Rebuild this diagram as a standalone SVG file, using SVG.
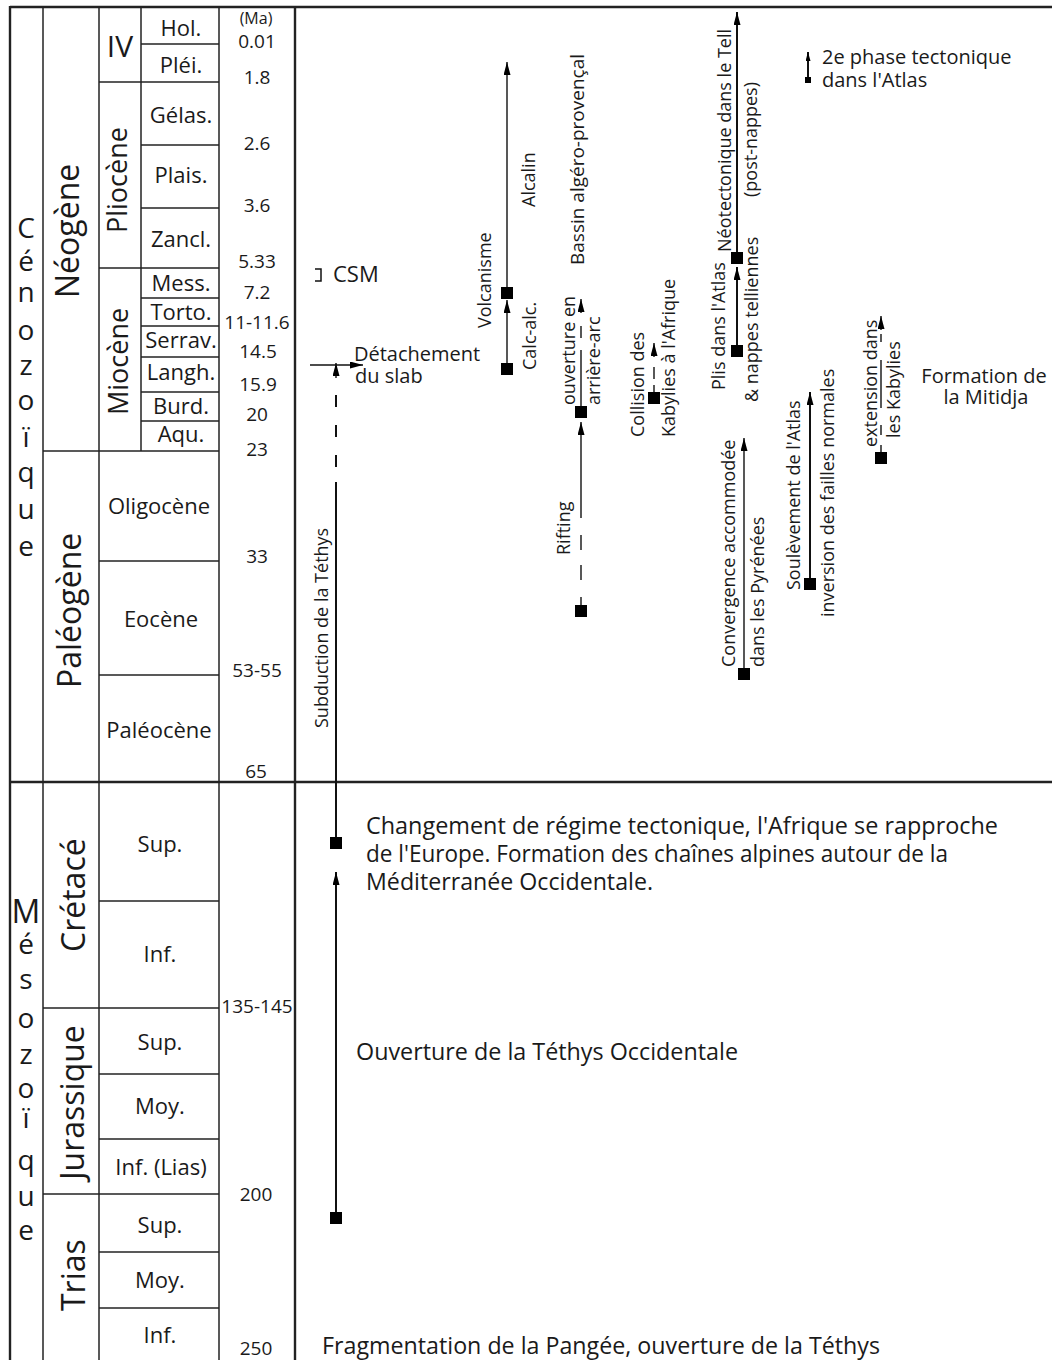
<svg xmlns="http://www.w3.org/2000/svg" xmlns:xlink="http://www.w3.org/1999/xlink" width="1052" height="1360" viewBox="0 0 1052 1360">
<style>
text { font-family: "Open Sans", "Noto Sans", "DejaVu Sans", sans-serif; fill: #1a1a1a; }
.stage { font-size: 22px; text-anchor: middle; }
.ma { font-size: 19px; text-anchor: middle; }
.per { font-size: 32px; }
.ep { font-size: 27px; }
.era { font-size: 28px; text-anchor: middle; }
.ann { font-size: 18px; }
.annh { font-size: 20px; }
.big { font-size: 23px; }
.grid line { stroke: #222; stroke-width: 1.5; fill: none; }
.grid line.thick { stroke-width: 2.4; }
.conn line { stroke: #111; stroke-width: 1.4; }
.conn line.heavy { stroke-width: 2; }
.sq { fill: #000; }
</style>
<defs>
<marker id="arr" viewBox="0 0 13 7" refX="13" refY="3.5" markerWidth="13" markerHeight="7" markerUnits="userSpaceOnUse" orient="auto">
<path d="M0,0 L13,3.5 L0,7 z" fill="#000"/>
</marker>
<marker id="arrs" viewBox="0 0 9 5" refX="9" refY="2.5" markerWidth="9" markerHeight="5" markerUnits="userSpaceOnUse" orient="auto">
<path d="M0,0 L9,2.5 L0,5 z" fill="#000"/>
</marker>
<rect id="sq" x="-6" y="-6" width="12" height="12" class="sq"/>
</defs>
<rect width="1052" height="1360" fill="#fff"/>

<g id="table" class="grid">
<line class="thick" x1="10" y1="7" x2="1052" y2="7"/>
<line class="thick" x1="10" y1="782" x2="1052" y2="782"/>
<line class="thick" x1="10" y1="6" x2="10" y2="1360"/>
<line x1="43" y1="7" x2="43" y2="1360"/>
<line x1="99" y1="7" x2="99" y2="1360"/>
<line x1="141" y1="7" x2="141" y2="451"/>
<line x1="219" y1="7" x2="219" y2="1360"/>
<line class="thick" x1="295" y1="7" x2="295" y2="1360"/>
<line x1="141" y1="44" x2="219" y2="44"/>
<line x1="141" y1="145" x2="219" y2="145"/>
<line x1="141" y1="208" x2="219" y2="208"/>
<line x1="141" y1="298" x2="219" y2="298"/>
<line x1="141" y1="326" x2="219" y2="326"/>
<line x1="141" y1="357" x2="219" y2="357"/>
<line x1="141" y1="392" x2="219" y2="392"/>
<line x1="141" y1="421" x2="219" y2="421"/>
<line x1="99" y1="82" x2="219" y2="82"/>
<line x1="99" y1="268" x2="219" y2="268"/>
<line x1="99" y1="561" x2="219" y2="561"/>
<line x1="99" y1="675" x2="219" y2="675"/>
<line x1="99" y1="901" x2="219" y2="901"/>
<line x1="99" y1="1074" x2="219" y2="1074"/>
<line x1="99" y1="1139" x2="219" y2="1139"/>
<line x1="99" y1="1252" x2="219" y2="1252"/>
<line x1="99" y1="1308" x2="219" y2="1308"/>
<line x1="43" y1="451" x2="219" y2="451"/>
<line x1="43" y1="1008" x2="219" y2="1008"/>
<line x1="43" y1="1194" x2="219" y2="1194"/>
</g>

<g id="era-cenozoic">
<text class="era"><tspan x="26" y="238">C</tspan><tspan x="26" y="271">é</tspan><tspan x="26" y="302">n</tspan><tspan x="26" y="340">o</tspan><tspan x="26" y="375">z</tspan><tspan x="26" y="410">o</tspan><tspan x="26" y="447">ï</tspan><tspan x="26" y="482">q</tspan><tspan x="26" y="519">u</tspan><tspan x="26" y="556">e</tspan></text>
</g>
<g id="era-mesozoic">
<text class="era"><tspan x="26" y="923" style="font-size:32px">M</tspan><tspan x="26" y="954">é</tspan><tspan x="26" y="989">s</tspan><tspan x="26" y="1028">o</tspan><tspan x="26" y="1064">z</tspan><tspan x="26" y="1098">o</tspan><tspan x="26" y="1128">ï</tspan><tspan x="26" y="1170">q</tspan><tspan x="26" y="1206">u</tspan><tspan x="26" y="1240">e</tspan></text>
</g>

<g id="periods">
<text class="per" transform="translate(79,298) rotate(-90)">Néogène</text>
<text class="per" transform="translate(81,688) rotate(-90)">Paléogène</text>
<text class="per" transform="translate(85,952) rotate(-90)">Crétacé</text>
<text class="per" transform="translate(84,1180) rotate(-90)">Jurassique</text>
<text class="per" transform="translate(85,1311) rotate(-90)">Trias</text>
</g>

<g id="epochs">
<text x="120" y="57" style="font-size:30px;text-anchor:middle">IV</text>
<text class="ep" transform="translate(127,233) rotate(-90)">Pliocène</text>
<text class="ep" transform="translate(128,415) rotate(-90)">Miocène</text>
</g>

<g id="stages">
<text class="stage" x="181" y="36">Hol.</text>
<text class="stage" x="181" y="73">Pléi.</text>
<text class="stage" x="181" y="123">Gélas.</text>
<text class="stage" x="181" y="183">Plais.</text>
<text class="stage" x="181" y="247">Zancl.</text>
<text class="stage" x="181" y="291">Mess.</text>
<text class="stage" x="181" y="320">Torto.</text>
<text class="stage" x="181" y="348">Serrav.</text>
<text class="stage" x="181" y="380">Langh.</text>
<text class="stage" x="181" y="414">Burd.</text>
<text class="stage" x="181" y="442">Aqu.</text>
<text class="stage" x="159" y="514">Oligocène</text>
<text class="stage" x="161" y="627">Eocène</text>
<text class="stage" x="159" y="738">Paléocène</text>
<text class="stage" x="160" y="852">Sup.</text>
<text class="stage" x="160" y="962">Inf.</text>
<text class="stage" x="160" y="1050">Sup.</text>
<text class="stage" x="160" y="1114">Moy.</text>
<text class="stage" x="161" y="1175">Inf. (Lias)</text>
<text class="stage" x="160" y="1233">Sup.</text>
<text class="stage" x="160" y="1288">Moy.</text>
<text class="stage" x="160" y="1343">Inf.</text>
</g>

<g id="ages">
<text class="ma" x="256" y="24" style="font-size:16px">(Ma)</text>
<text class="ma" x="257" y="48">0.01</text>
<text class="ma" x="257" y="84">1.8</text>
<text class="ma" x="257" y="150">2.6</text>
<text class="ma" x="257" y="212">3.6</text>
<text class="ma" x="257" y="268">5.33</text>
<text class="ma" x="257" y="299">7.2</text>
<text class="ma" x="257" y="329">11-11.6</text>
<text class="ma" x="258" y="358">14.5</text>
<text class="ma" x="258" y="391">15.9</text>
<text class="ma" x="257" y="421">20</text>
<text class="ma" x="257" y="456">23</text>
<text class="ma" x="257" y="563">33</text>
<text class="ma" x="257" y="677">53-55</text>
<text class="ma" x="256" y="778">65</text>
<text class="ma" x="257" y="1013">135-145</text>
<text class="ma" x="256" y="1201">200</text>
<text class="ma" x="256" y="1355">250</text>
</g>

<g id="connectors" class="conn">
<line x1="336" y1="843" x2="336" y2="482" class="heavy"/>
<line x1="336" y1="467" x2="336" y2="455" class="heavy"/>
<line x1="336" y1="437" x2="336" y2="425" class="heavy"/>
<line x1="336" y1="407" x2="336" y2="395" class="heavy"/>
<line x1="336" y1="378" x2="336" y2="363" marker-end="url(#arr)"/>
<line x1="310" y1="365" x2="363" y2="365" marker-end="url(#arr)"/>
<line x1="336" y1="1218" x2="336" y2="872" class="heavy" marker-end="url(#arr)"/>
<path d="M315,269 H321 V281 H315" fill="none" stroke="#111" stroke-width="1.5"/>
<line x1="507" y1="369" x2="507" y2="300" marker-end="url(#arr)"/>
<line x1="507" y1="293" x2="507" y2="62" marker-end="url(#arr)"/>
<line x1="581" y1="605" x2="581" y2="597"/>
<line x1="581" y1="580" x2="581" y2="565"/>
<line x1="581" y1="550" x2="581" y2="535"/>
<line x1="581" y1="518" x2="581" y2="422" marker-end="url(#arr)"/>
<line x1="581" y1="407" x2="581" y2="350"/>
<line x1="581" y1="338" x2="581" y2="326"/>
<line x1="581" y1="313" x2="581" y2="299" marker-end="url(#arr)"/>
<line x1="654" y1="392" x2="654" y2="385"/>
<line x1="654" y1="379" x2="654" y2="367"/>
<line x1="654" y1="357" x2="654" y2="343" marker-end="url(#arr)"/>
<line x1="737" y1="351" x2="737" y2="267" class="heavy" marker-end="url(#arr)"/>
<line x1="737" y1="258" x2="737" y2="12" class="heavy" marker-end="url(#arr)"/>
<line x1="808" y1="80" x2="808" y2="52" class="heavy" marker-end="url(#arrs)"/>
<line x1="744" y1="674" x2="744" y2="438" marker-end="url(#arr)"/>
<line x1="810" y1="584" x2="810" y2="392" class="heavy" marker-end="url(#arr)"/>
<line x1="881" y1="452" x2="881" y2="445"/>
<line x1="881" y1="435" x2="881" y2="425"/>
<line x1="881" y1="408" x2="881" y2="360"/>
<line x1="881" y1="342" x2="881" y2="334"/>
<line x1="881" y1="330" x2="881" y2="316" marker-end="url(#arr)"/>
</g>

<g id="squares">
<use xlink:href="#sq" href="#sq" x="336" y="843"/>
<use xlink:href="#sq" href="#sq" x="336" y="1218"/>
<use xlink:href="#sq" href="#sq" x="507" y="369"/>
<use xlink:href="#sq" href="#sq" x="507" y="293"/>
<use xlink:href="#sq" href="#sq" x="581" y="611"/>
<use xlink:href="#sq" href="#sq" x="581" y="412"/>
<use xlink:href="#sq" href="#sq" x="654" y="398"/>
<use xlink:href="#sq" href="#sq" x="737" y="351"/>
<use xlink:href="#sq" href="#sq" x="737" y="258"/>
<use xlink:href="#sq" href="#sq" x="744" y="674"/>
<use xlink:href="#sq" href="#sq" x="810" y="584"/>
<use xlink:href="#sq" href="#sq" x="881" y="458"/>
<rect x="805" y="77" width="6" height="6" class="sq"/>
</g>

<g id="n-subduction"><text class="ann" transform="translate(328,728) rotate(-90)">Subduction de la Téthys</text></g>
<g id="n-detachement">
<text class="annh"><tspan x="354" y="361">Détachement</tspan><tspan x="355" y="383">du slab</tspan></text>
</g>
<g id="n-csm"><text x="333" y="282" style="font-size:22px">CSM</text></g>
<g id="n-volcanisme">
<text class="ann" transform="translate(491,328) rotate(-90)">Volcanisme</text>
<text class="ann" transform="translate(536,370) rotate(-90)">Calc-alc.</text>
<text class="ann" transform="translate(535,207) rotate(-90)">Alcalin</text>
</g>
<g id="n-bassin">
<text class="ann" style="font-size:19px" transform="translate(584,265) rotate(-90)">Bassin algéro-provençal</text>
<text class="ann" transform="translate(575,405) rotate(-90)">ouverture en</text>
<text class="ann" transform="translate(600,405) rotate(-90)">arrière-arc</text>
<text class="ann" transform="translate(570,555) rotate(-90)">Rifting</text>
</g>
<g id="n-collision">
<text class="ann" transform="translate(644,437) rotate(-90)">Collision des</text>
<text class="ann" transform="translate(675,437) rotate(-90)">Kabylies à l'Afrique</text>
</g>
<g id="n-tell">
<text class="ann" transform="translate(725,390) rotate(-90)">Plis dans l'Atlas</text>
<text class="ann" transform="translate(758,402) rotate(-90)">&amp; nappes telliennes</text>
<text class="ann" transform="translate(731,252) rotate(-90)">Néotectonique dans le Tell</text>
<text class="ann" transform="translate(757,197) rotate(-90)">(post-nappes)</text>
</g>
<g id="n-2ephase">
<text class="annh"><tspan x="822" y="64">2e phase tectonique</tspan><tspan x="822" y="87">dans l'Atlas</tspan></text>
</g>
<g id="n-convergence">
<text class="ann" transform="translate(735,667) rotate(-90)">Convergence accommodée</text>
<text class="ann" transform="translate(764,667) rotate(-90)">dans les Pyrénées</text>
</g>
<g id="n-soulevement">
<text class="ann" transform="translate(800,590) rotate(-90)">Soulèvement de l'Atlas</text>
<text class="ann" transform="translate(834,617) rotate(-90)">inversion des failles normales</text>
</g>
<g id="n-extension">
<text class="ann" transform="translate(877,447) rotate(-90)">extension dans</text>
<text class="ann" transform="translate(900,438) rotate(-90)">les Kabylies</text>
</g>
<g id="n-mitidja">
<text class="annh" style="text-anchor:middle"><tspan x="984" y="383">Formation de</tspan><tspan x="986" y="404">la Mitidja</tspan></text>
</g>
<g id="n-changement">
<text class="big" x="366" y="834" textLength="632" lengthAdjust="spacingAndGlyphs">Changement de régime tectonique, l'Afrique se rapproche</text>
<text class="big" x="366" y="862" textLength="582" lengthAdjust="spacingAndGlyphs">de l'Europe. Formation des chaînes alpines autour de la</text>
<text class="big" x="366" y="890" textLength="287" lengthAdjust="spacingAndGlyphs">Méditerranée Occidentale.</text>
</g>
<g id="n-ouverture"><text class="big" x="356" y="1060" textLength="382" lengthAdjust="spacingAndGlyphs">Ouverture de la Téthys Occidentale</text></g>
<g id="n-fragmentation"><text class="big" x="322" y="1354" textLength="558" lengthAdjust="spacingAndGlyphs">Fragmentation de la Pangée, ouverture de la Téthys</text></g>
</svg>
